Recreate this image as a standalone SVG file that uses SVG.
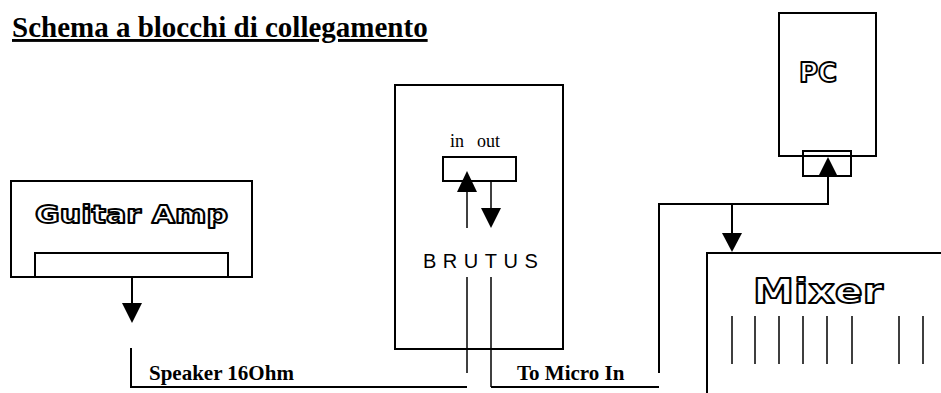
<svg xmlns="http://www.w3.org/2000/svg" width="941" height="393" viewBox="0 0 941 393">
<style>
.box{fill:none;stroke:#000;stroke-width:2}
.w{fill:none;stroke:#000;stroke-width:2}
.t{fill:none;stroke:#000;stroke-width:1.5}
.ah{fill:#000;stroke:none}
.outl{font-family:"DejaVu Sans","Liberation Sans",sans-serif;font-weight:bold;fill:#fff;stroke:#000;stroke-width:1.8;stroke-linejoin:round}
.lbl{font-family:"Liberation Serif","Times New Roman",serif;font-weight:bold;fill:#000}
</style>
<rect width="941" height="393" fill="#fff"/>
<text id="title" x="12" y="37" class="lbl" font-size="29" text-decoration="underline">Schema a blocchi di collegamento</text>
<g id="guitar-amp">
<rect class="box" x="11" y="181" width="241" height="96"/>
<rect class="box" x="35" y="253" width="193" height="24"/>
<text class="outl" x="35" y="223" font-size="24" textLength="193" lengthAdjust="spacingAndGlyphs">Guitar Amp</text>
</g>
<g id="brutus">
<rect class="box" x="395" y="85" width="168" height="264"/>
<rect class="box" x="443" y="157" width="73" height="24"/>
<text font-family="Liberation Serif,serif" font-size="18" y="147"><tspan x="450">in</tspan><tspan x="477">out</tspan></text>
<text x="423" y="268" font-family="Liberation Sans,Arial,sans-serif" font-size="20" letter-spacing="6.5">BRUTUS</text>
</g>
<g id="pc">
<rect class="box" x="779" y="13" width="97" height="143"/>
<rect class="box" x="803" y="151" width="48" height="25" fill="#fff"/>
<text class="outl" x="818" y="82" font-size="26" text-anchor="middle">PC</text>
</g>
<g id="mixer">
<path class="box" d="M707,393 V253 H941"/>
<text class="outl" x="753" y="303" font-size="34" textLength="130" lengthAdjust="spacingAndGlyphs">Mixer</text>
<path class="t" d="M732,316V364M755,316V364M779,316V364M803,316V364M827,316V364M852,316V364M899,316V364M923,316V364"/>
</g>
<g id="connectors">
<path class="w" d="M132,277 V304"/>
<polygon class="ah" points="122,303 142,303 132,323"/>
<path class="w" d="M131,348 V387 H467"/>
<text class="lbl" x="149" y="380" font-size="21">Speaker 16Ohm</text>
<path class="t" d="M467,192 V228"/>
<polygon class="ah" points="457,192 477,192 467,171"/>
<path class="t" d="M491,181 V209"/>
<polygon class="ah" points="481,208 501,208 491,228"/>
<path class="t" d="M467,277 V373"/>
<path class="t" d="M491,277 V387"/>
<path class="w" d="M491,387 H659"/>
<text class="lbl" x="517" y="380" font-size="21">To Micro In</text>
<path class="w" d="M659,373 V204 H828 V177"/>
<polygon class="ah" points="818,177 838,177 828,157"/>
<path class="w" d="M732,204 V234"/>
<polygon class="ah" points="722,233 742,233 732,252"/>
</g>
</svg>
